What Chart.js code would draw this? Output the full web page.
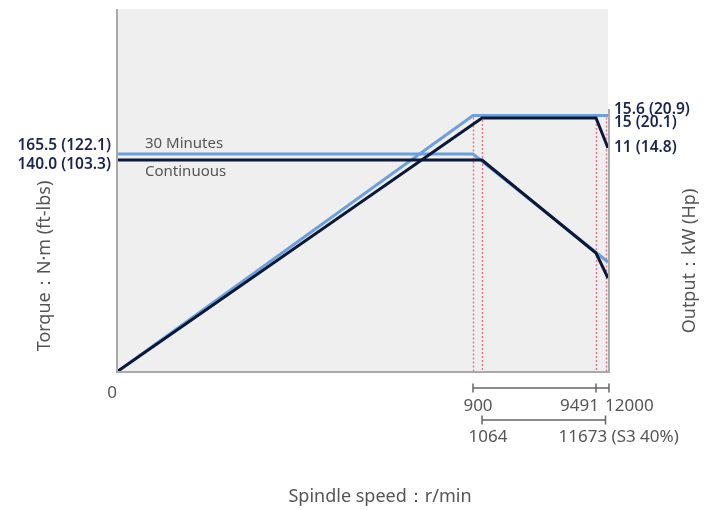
<!DOCTYPE html>
<html>
<head>
<meta charset="utf-8">
<script src="https://cdn.jsdelivr.net/npm/chart.js@4.4.1/dist/chart.umd.min.js"></script>
<style>
  html, body { margin: 0; padding: 0; background: #ffffff; }
  #wrap { width: 716px; height: 510px; position: relative; }
  canvas { display: block; }
</style>
</head>
<body>
<div id="wrap"><canvas id="c" width="716" height="510" style="width:716px;height:510px"></canvas></div>
<script>
// ---- Data (spindle speed r/min, torque N·m, output kW) ----
const speed30Power = [0, 900, 12000];
const power30 = [0, 15.6, 15.6];
const speedContPower = [0, 1064, 9491, 12000];
const powerCont = [0, 15, 15, 11];
const speed30Torque = [0, 900, 12000];
const torque30 = [165.5, 165.5, 12.4];
const speedContTorque = [0, 1064, 9491, 12000];
const torqueCont = [140, 140, 15.1, 8.75];

// tick / annotation labels
const torqueTickValues = [165.5, 140.0];
const torqueTickLabels = ['165.5 (122.1)', '140.0 (103.3)'];
const powerTickValues = [15.6, 15, 11];
const powerTickLabels = ['15.6 (20.9)', '15 (20.1)', '11 (14.8)'];
const speedRow1 = [900, 9491, 12000];
const speedRow1Labels = ['900', '9491', '12000'];
const speedRow2 = [11673, 1064];
const speedRow2Labels = ['11673 (S3 40%)', '1064'];
const seriesNames = ['30 Minutes', 'Continuous'];

// ---- schematic (non-proportional) scale: value -> fraction of axis ----
const KNOTS = {
  x:  [[0, 0], [900, 0.7245], [1064, 0.7429], [9491, 0.9755], [11673, 0.9949], [12000, 1]],
  yT: [[0, 0], [8.75, 0.2569], [12.4, 0.3011], [15.1, 0.3260], [140, 0.5829], [165.5, 0.5994], [400, 1]],
  yP: [[0, 0], [11, 0.6160], [15, 0.6989], [15.6, 0.7058], [30, 1]]
};
function toDec(k, v) {
  if (v <= k[0][0]) return k[0][1];
  for (let i = 1; i < k.length; i++) {
    if (v <= k[i][0]) {
      const [v0, d0] = k[i - 1], [v1, d1] = k[i];
      return d0 + (d1 - d0) * (v - v0) / (v1 - v0);
    }
  }
  return k[k.length - 1][1];
}
function fromDec(k, d) {
  if (d <= k[0][1]) return k[0][0];
  for (let i = 1; i < k.length; i++) {
    if (d <= k[i][1]) {
      const [v0, d0] = k[i - 1], [v1, d1] = k[i];
      return v0 + (v1 - v0) * (d - d0) / (d1 - d0);
    }
  }
  return k[k.length - 1][0];
}
class KnotScale extends Chart.LinearScale {
  getPixelForValue(value) { return this.getPixelForDecimal(toDec(KNOTS[this.id], value)); }
  getValueForPixel(pixel) { return fromDec(KNOTS[this.id], this.getDecimalForPixel(pixel)); }
}
KnotScale.id = 'knot';
KnotScale.defaults = Chart.LinearScale.defaults;
Chart.register(KnotScale);

const NAVY = '#0c1838';
const BLUE = '#6ca0dc';
const PINK = '#e8768c';
const GRAY_TXT = '#555555';
const LABEL_NAVY = '#1b2552';
const FONT = '"Noto Sans", "Open Sans", sans-serif';

function pts(xs, ys) { return xs.map((x, i) => ({ x: x, y: ys[i] })); }

const decor = {
  id: 'decor',
  beforeDatasetsDraw(chart) {
    const { ctx, chartArea: a, scales } = chart;
    const xs = scales.x, yp = scales.yP;
    ctx.save();
    ctx.fillStyle = '#efefef';
    ctx.fillRect(a.left, a.top, a.right - a.left, a.bottom - a.top);
    // borders
    ctx.strokeStyle = '#a9a9a9';
    ctx.lineWidth = 2;
    ctx.beginPath();
    ctx.moveTo(a.left - 1, a.top);
    ctx.lineTo(a.left - 1, a.bottom + 1);
    ctx.lineTo(a.right + 1, a.bottom + 1);
    ctx.lineTo(a.right + 1, a.top + 100);
    ctx.stroke();
    // dotted guides
    ctx.strokeStyle = PINK;
    ctx.lineWidth = 1.5;
    ctx.setLineDash([2, 2]);
    const guides = [[900, 15.6], [1064, 15], [9491, 15], [11673, 15.6]];
    guides.forEach(([s, p]) => {
      const x = Math.round(xs.getPixelForValue(s)) + 0.5;
      ctx.beginPath();
      ctx.moveTo(x, yp.getPixelForValue(p) + 2);
      ctx.lineTo(x, a.bottom);
      ctx.stroke();
    });
    ctx.restore();
  },
  afterDraw(chart) {
    const { ctx, chartArea: a, scales } = chart;
    const xs = scales.x, yt = scales.yT, yp = scales.yP;
    ctx.save();
    ctx.textBaseline = 'middle';
    // torque labels (left)
    ctx.fillStyle = LABEL_NAVY;
    ctx.font = '600 15.5px ' + FONT;
    ctx.textAlign = 'right';
    const tOff = [-8, 5];
    torqueTickValues.forEach((v, i) => ctx.fillText(torqueTickLabels[i], a.left - 7, yt.getPixelForValue(v) + tOff[i]));
    // power labels (right)
    ctx.textAlign = 'left';
    const pOff = [-5.5, 5, 0];
    powerTickValues.forEach((v, i) => ctx.fillText(powerTickLabels[i], a.right + 6, yp.getPixelForValue(v) + pOff[i]));
    // series names
    ctx.fillStyle = GRAY_TXT;
    ctx.font = '15px ' + FONT;
    ctx.fillText(seriesNames[0], a.left + 27, yt.getPixelForValue(torque30[0]) - 10);
    ctx.fillText(seriesNames[1], a.left + 27, yt.getPixelForValue(torqueCont[0]) + 12);
    // speed tick labels
    ctx.font = '17px ' + FONT;
    ctx.textAlign = 'right';
    ctx.fillText('0', a.left - 1, a.bottom + 22);
    ctx.strokeStyle = '#666666';
    ctx.lineWidth = 1.5;
    // row 1 bracket
    const r1 = speedRow1.map(v => xs.getPixelForValue(v));
    const y1 = a.bottom + 17;
    ctx.beginPath();
    ctx.moveTo(r1[0], y1); ctx.lineTo(r1[r1.length - 1] + 1, y1);
    r1.forEach((x, i) => { const xx = i === r1.length - 1 ? x + 1 : x; ctx.moveTo(xx, y1 - 4.5); ctx.lineTo(xx, y1 + 4.5); });
    ctx.stroke();
    ctx.textAlign = 'center';
    ctx.fillText(speedRow1Labels[0], r1[0] + 5, y1 + 18);
    ctx.textAlign = 'right';
    ctx.fillText(speedRow1Labels[1], r1[1] + 3, y1 + 18);
    ctx.textAlign = 'left';
    ctx.fillText(speedRow1Labels[2], r1[2] - 3, y1 + 18);
    // row 2 bracket
    const r2 = speedRow2.map(v => xs.getPixelForValue(v));
    const y2 = a.bottom + 49;
    ctx.beginPath();
    ctx.moveTo(r2[1], y2); ctx.lineTo(r2[0], y2);
    r2.forEach(x => { ctx.moveTo(x, y2 - 4.5); ctx.lineTo(x, y2 + 4.5); });
    ctx.stroke();
    ctx.textAlign = 'center';
    ctx.fillText(speedRow2Labels[1], r2[1] + 6, y2 + 17);
    ctx.textAlign = 'left';
    ctx.fillText(speedRow2Labels[0], r2[0] - 47, y2 + 17);
    // axis titles
    ctx.font = '18px ' + FONT;
    ctx.textAlign = 'center';
    ctx.fillText('Spindle speed：r/min', 380, 497);
    ctx.save();
    ctx.translate(45, 266);
    ctx.rotate(-Math.PI / 2);
    ctx.fillText('Torque：N·m (ft-lbs)', 0, 0);
    ctx.restore();
    ctx.save();
    ctx.translate(690, 261);
    ctx.rotate(-Math.PI / 2);
    ctx.fillText('Output：kW (Hp)', 0, 0);
    ctx.restore();
    ctx.restore();
  }
};

const lineOpts = { borderWidth: 3, pointRadius: 0, tension: 0, fill: false, borderJoinStyle: 'miter', borderCapStyle: 'butt' };

new Chart(document.getElementById('c'), {
  type: 'line',
  data: {
    datasets: [
      Object.assign({ label: 'Continuous output', data: pts(speedContPower, powerCont), borderColor: NAVY, yAxisID: 'yP', order: 1 }, lineOpts),
      Object.assign({ label: 'Continuous torque', data: pts(speedContTorque, torqueCont), borderColor: NAVY, yAxisID: 'yT', order: 1 }, lineOpts),
      Object.assign({ label: '30 Minutes output', data: pts(speed30Power, power30), borderColor: BLUE, yAxisID: 'yP', order: 2 }, lineOpts),
      Object.assign({ label: '30 Minutes torque', data: pts(speed30Torque, torque30), borderColor: BLUE, yAxisID: 'yT', order: 2 }, lineOpts)
    ]
  },
  options: {
    responsive: false,
    animation: false,
    devicePixelRatio: 1,
    layout: { padding: { left: 118, right: 108, top: 9, bottom: 139 } },
    plugins: { legend: { display: false }, tooltip: { enabled: false } },
    scales: {
      x: { type: 'knot', min: 0, max: 12000, display: false },
      yT: { type: 'knot', position: 'left', min: 0, max: 400, display: false },
      yP: { type: 'knot', position: 'right', min: 0, max: 30, display: false }
    }
  },
  plugins: [decor]
});
</script>
</body>
</html>
